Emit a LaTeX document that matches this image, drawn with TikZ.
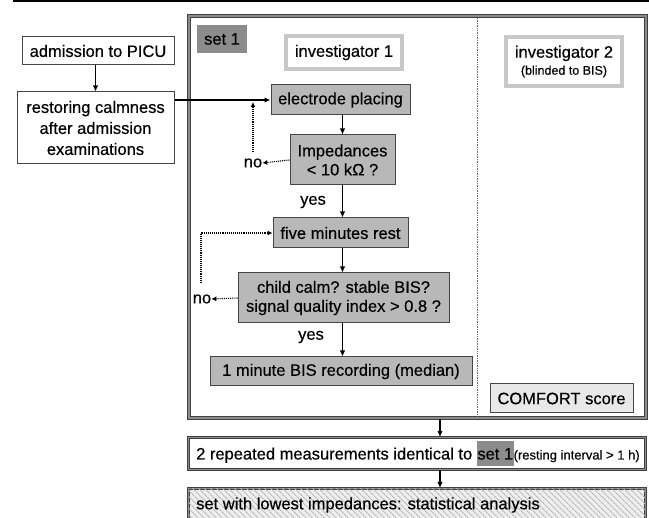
\documentclass[tikz,border=0pt]{standalone}
\usepackage{fontspec}
\setmainfont{Liberation Sans}[UprightFeatures={FakeBold=0.4}]
\usetikzlibrary{arrows.meta,patterns.meta}
\definecolor{boxgray}{RGB}{184,184,184}
\definecolor{setgray}{RGB}{140,140,140}
\definecolor{edgegray}{RGB}{70,70,70}
\definecolor{invgray}{RGB}{200,200,200}
\definecolor{comfgray}{RGB}{232,232,232}
\begin{document}
\begin{tikzpicture}[x=1pt,y=-1pt,
  every node/.style={font=\fontsize{16.5}{21}\selectfont, inner sep=1pt, align=center},
  wbox/.style={draw=edgegray, line width=1pt, fill=white},
  gbox/.style={draw=edgegray, line width=1pt, fill=boxgray},
  setlab/.style={fill=setgray},
  invbox/.style={draw=invgray, line width=4pt, fill=white},
  cbox/.style={draw=edgegray, line width=1pt, fill=comfgray},
  frm/.style={draw=black!75, double=black!45, double distance=1.3pt, line width=0.9pt},
  arr/.style={-{Latex[length=6pt,width=5.5pt]}, line width=1.2pt},
  darr/.style={-{Latex[length=5pt,width=5pt]}, densely dotted, line width=1.1pt},
  dline/.style={densely dotted, line width=0.9pt},
  lbl/.style={inner sep=0pt}
]
\useasboundingbox (0,0) rectangle (649,518);
% top rule
\draw[line width=1.6pt] (13,1) -- (649,1);

% left boxes
\node[wbox, minimum width=152pt, minimum height=28pt] (adm) at (98,51) {admission to PICU};
\node[wbox, minimum width=157pt, minimum height=72pt] (rest) at (95.5,128) {restoring calmness\\after admission\\examinations};

% set 1 frame
\node[frm, minimum width=457pt, minimum height=402pt] (frame) at (417.5,217) {};
\draw[dline, line width=0.7pt, black!60] (477,18) -- (477,416);
\node[setlab, minimum width=50pt, minimum height=28pt] (set1) at (222,39) {set 1};
\node[invbox, minimum width=116pt, minimum height=33pt] (inv1) at (344,52.5) {investigator 1};
\node[invbox, minimum width=116pt, minimum height=49pt] (inv2) at (564,61.5) {investigator 2\\[-4pt]{\fontsize{12.5}{14}\selectfont (blinded to BIS)}};

% flow
\node[gbox, minimum width=139pt, minimum height=30pt] (elec) at (340.5,100) {electrode placing};
\node[gbox, minimum width=105pt, minimum height=50pt] (imp) at (342.5,160) {Impedances\\[-2pt]< 10 kΩ ?};
\node[gbox, minimum width=135pt, minimum height=30pt] (five) at (340.5,233) {five minutes rest};
\node[gbox, minimum width=211pt, minimum height=50pt] (child) at (343.5,298) {child calm? stable BIS?\\[-2pt]signal quality index > 0.8 ?};
\node[gbox, minimum width=262pt, minimum height=29pt] (bis) at (341,371.5) {1 minute BIS recording (median)};
\node[cbox, minimum width=143pt, minimum height=29pt] (comf) at (561.5,398.5) {COMFORT score};

\node[lbl] (no1) at (253,163) {no};
\node[lbl] (yes1) at (313,202) {yes};
\node[lbl] (no2) at (202,299) {no};
\node[lbl] (yes2) at (311,337) {yes};

% bottom boxes
\node[frm, minimum width=457pt, minimum height=32pt, anchor=west] (rep) at (188,453.5) {};
\node[anchor=west, inner sep=0pt] (reptxt) at (196,453.5) {2 repeated measurements identical to {\setlength{\fboxsep}{0.5pt}\colorbox{setgray}{\rule[-6pt]{0pt}{24pt}set 1}}{\fontsize{13}{15}\selectfont(resting interval > 1 h)}};
\node[frm, fill=black!7, postaction={pattern={Lines[angle=-45,distance=4pt,line width=0.9pt]}, pattern color=black!28}, minimum width=457pt, minimum height=36pt, anchor=north west] (stat) at (188,488) {};
\node[anchor=west, inner sep=0pt] (stattxt) at (196,505) {set with lowest impedances: statistical analysis};

% free ends
\coordinate (noup) at (253,102);
\coordinate (nodown) at (253,152);
\coordinate (no2top) at (201,283);
\coordinate (fout) at (440,419);

% connectors
\draw[arr] (rest.north |- adm.south) -- (rest.north);
\draw[arr] (rest.east |- elec.west) -- (elec.west);
\draw[arr] (imp.north |- elec.south) -- (imp.north);
\draw[arr] (imp.south) -- (imp.south |- five.north);
\draw[arr] (imp.south |- five.south) -- (imp.south |- child.north);
\draw[arr] (imp.south |- child.south) -- (imp.south |- bis.north);
\draw[darr] (imp.west) -- (no1.east);
\draw[darr] (nodown) -- (noup);
\draw[darr] (child.west) -- (no2.east);
\draw[darr] (no2top) |- (five.west);
\draw[arr] (fout) -- (fout |- rep.north);
\draw[arr] (fout |- rep.south) -- (fout |- stat.north);
\end{tikzpicture}
\end{document}
